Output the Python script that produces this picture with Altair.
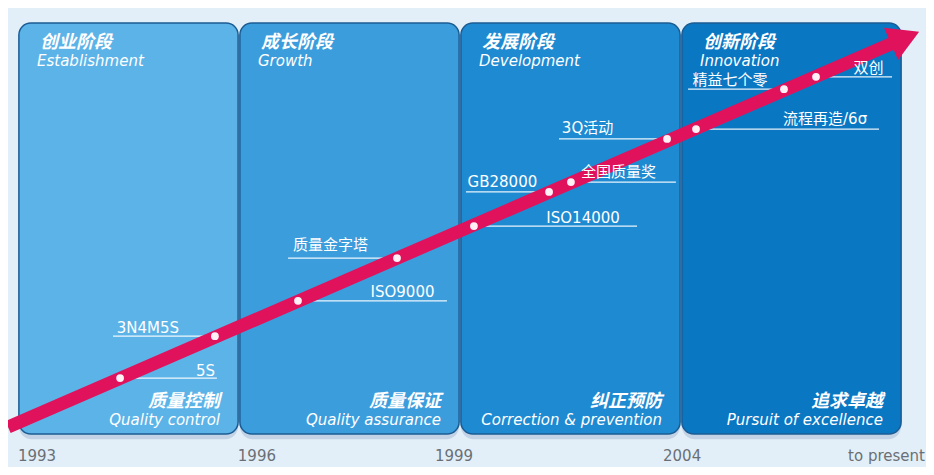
import altair as alt
import pandas as pd

# ---- data ----
phase_cn = ["创业阶段", "成长阶段", "发展阶段", "创新阶段"]
phase_en = ["Establishment", "Growth", "Development", "Innovation"]
focus_cn = ["质量控制", "质量保证", "纠正预防", "追求卓越"]
focus_en = ["Quality control", "Quality assurance", "Correction & prevention", "Pursuit of excellence"]
phase_start = [0, 1, 2, 3]
phase_end = [1, 2, 3, 4]
panel_colors = ["#5cb3e7", "#3b9ddc", "#1e8ad1", "#0a77c3"]

years = ["1993", "1996", "1999", "2004", "to present"]
year_pos = [0.086, 1.081, 1.973, 3.005, 3.93]
year_level = [-5.4, -5.4, -5.4, -5.4, -5.4]

ms_name = ["5S", "3N4M5S", "ISO9000", "质量金字塔", "ISO14000", "GB28000",
           "全国质量奖", "3Q活动", "流程再造/6σ", "精益七个零", "双创"]
ms_pos = [0.462, 0.891, 1.267, 1.715, 2.063, 2.403, 2.502, 2.937, 3.068, 3.466, 3.611]
ms_level = [13.6, 23.8, 32.4, 42.8, 50.6, 58.9, 61.3, 71.8, 74.2, 83.9, 86.9]
ms_line_from = [0.462, 0.430, 1.267, 1.222, 2.063, 2.027, 2.502, 2.448, 3.068, 3.032, 3.611]
ms_line_to = [0.900, 0.891, 1.941, 1.715, 2.801, 2.403, 2.977, 2.937, 3.896, 3.466, 3.955]
ms_label_pos = [0.848, 0.588, 1.740, 1.414, 2.557, 2.192, 2.717, 2.577, 3.652, 3.222, 3.848]
ms_label_level = [15.3, 25.8, 34.5, 46.0, 52.6, 61.3, 63.7, 74.5, 76.6, 86.1, 89.1]

arrow_pos = [-0.045, 4.014]
arrow_level = [1.7, 96.4]

# ---- tables ----
panels = pd.DataFrame({
    "cn": phase_cn, "en": phase_en, "fcn": focus_cn, "fen": focus_en,
    "start": phase_start, "end": phase_end, "color": panel_colors,
})
panels["s"] = panels["start"] + 0.004
panels["e"] = panels["end"] - 0.004
panels["top"] = 100
panels["bottom"] = 0

yr = pd.DataFrame({"year": years, "pos": year_pos, "lvl": year_level})
ms = pd.DataFrame({
    "name": ms_name, "pos": ms_pos, "lvl": ms_level,
    "from": ms_line_from, "to": ms_line_to,
    "lpos": ms_label_pos, "llvl": ms_label_level,
})
arrow = pd.DataFrame({"pos": arrow_pos, "lvl": arrow_level, "order": [0, 1]})
head = arrow.iloc[[1]]

xs = alt.Scale(domain=[-0.04525, 4.1086], nice=False, zero=False)
ys = alt.Scale(domain=[-8.03, 103.65], nice=False, zero=False)


def X(f):
    return alt.X(f, type="quantitative", scale=xs, axis=None)


def Y(f):
    return alt.Y(f, type="quantitative", scale=ys, axis=None)


pink = "#e0125c"
latin = "DejaVu Sans, Noto Sans CJK SC"
cjk = "Noto Sans CJK SC"

shadow = alt.Chart(panels).mark_rect(
    cornerRadius=13, color="#a9bcd6", opacity=0.55
).encode(x=X("s"), x2="e", y=Y("bottom"), y2="top").transform_calculate(
    bottom="datum.bottom - 1.3"
)

panel_rects = alt.Chart(panels).mark_rect(
    cornerRadius=12, stroke="#1b5c94", strokeWidth=1.5
).encode(
    x=X("s"), x2="e", y=Y("bottom"), y2="top",
    color=alt.Color("color:N", scale=None),
)

title_cn = alt.Chart(panels).mark_text(
    align="left", baseline="middle", dx=22, dy=20, font=cjk, fontSize=18,
    fontStyle="italic", fontWeight="bold", color="white"
).encode(x=X("start"), y=Y("top"), text="cn:N")

title_en = alt.Chart(panels).mark_text(
    align="left", baseline="middle", dx=19, dy=38, font=latin, fontSize=15,
    fontStyle="italic", color="white"
).encode(x=X("start"), y=Y("top"), text="en:N")

foc_cn = alt.Chart(panels).mark_text(
    align="right", baseline="middle", dx=-19, dy=-32, font=cjk, fontSize=18,
    fontStyle="italic", fontWeight="bold", color="white"
).encode(x=X("end"), y=Y("bottom"), text="fcn:N")

foc_en = alt.Chart(panels).mark_text(
    align="right", baseline="middle", dx=-19, dy=-14, font=latin, fontSize=15,
    fontStyle="italic", color="white"
).encode(x=X("end"), y=Y("bottom"), text="fen:N")

ms_rules = alt.Chart(ms).mark_rule(color="white", strokeWidth=1.2, opacity=0.9).encode(
    x=X("from"), x2="to", y=Y("lvl")
)

shaft = alt.Chart(arrow).mark_line(color=pink, strokeWidth=13, strokeCap="butt").encode(
    x=X("pos"), y=Y("lvl"), order="order:Q"
)

arrow_head = alt.Chart(head).mark_point(
    shape="triangle-up", filled=True, color=pink, opacity=1, size=1250, angle=66.6
).encode(x=X("pos"), y=Y("lvl"))

dots = alt.Chart(ms).mark_circle(color="#fff0f6", opacity=1, size=60).encode(
    x=X("pos"), y=Y("lvl")
)

ms_labels = alt.Chart(ms).mark_text(
    align="center", baseline="middle", font=latin, fontSize=15, color="white"
).encode(x=X("lpos"), y=Y("llvl"), text="name:N")

year_text = alt.Chart(yr).mark_text(
    align="center", baseline="middle", font=latin, fontSize=15, color="#6b6f75"
).encode(x=X("pos"), y=Y("lvl"), text="year:N")

chart = alt.layer(
    shadow, panel_rects, title_cn, title_en, foc_cn, foc_en,
    ms_rules, shaft, arrow_head, dots, ms_labels, year_text
).properties(
    width=918, height=459,
    autosize=alt.AutoSizeParams(type="none"),
    padding=0, background="#e2eff9",
).configure_view(stroke=None)

chart.save("out.html", embed_options={"renderer": "svg", "actions": False})
